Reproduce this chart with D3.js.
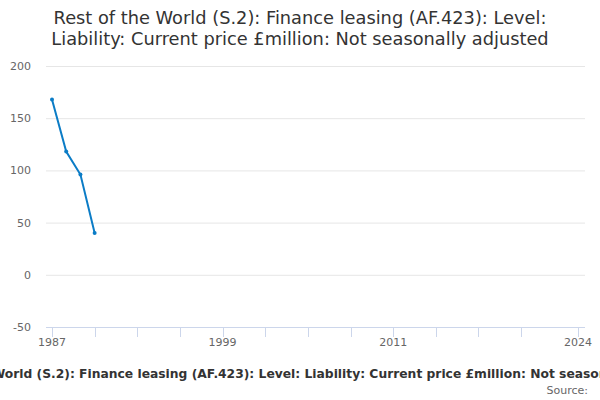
<!DOCTYPE html>
<html>
<head>
<meta charset="utf-8">
<script src="https://cdn.jsdelivr.net/npm/d3@7"></script>
<style>
  body { margin: 0; background: #fff; }
  text { font-family: "DejaVu Sans", sans-serif; }
</style>
</head>
<body>
<div id="chart"></div>
<script>
// data
const years = [1987, 1988, 1989, 1990];
const values = [168, 118, 96, 40];
const yTicks = [-50, 0, 50, 100, 150, 200];
const xTickYears = [1987, 1990, 1993, 1996, 1999, 2002, 2005, 2008, 2011, 2014, 2017, 2020, 2024];
const xLabelYears = [1987, 1999, 2011, 2024];
const titleLines = [
  "Rest of the World (S.2): Finance leasing (AF.423): Level:",
  "Liability: Current price £million: Not seasonally adjusted",
];
const footerText = "Rest of the World (S.2): Finance leasing (AF.423): Level: Liability: Current price £million: Not seasonally adjusted";

const width = 600, height = 400;
const margin = { top: 66, right: 22, bottom: 73, left: 52 };

const svg = d3.select("#chart").append("svg")
  .attr("width", width)
  .attr("height", height);

const x = d3.scaleLinear().domain([1987, 2024]).range([margin.left, width - margin.right]);
const y = d3.scaleLinear().domain([-50, 200]).range([height - margin.bottom, margin.top]);

// title
svg.append("text")
  .attr("x", 300)
  .attr("y", 24)
  .attr("text-anchor", "middle")
  .attr("font-size", 17.8)
  .attr("fill", "#333")
  .selectAll("tspan")
  .data(titleLines)
  .join("tspan")
  .attr("x", 300)
  .attr("dy", (d, i) => i === 0 ? 0 : 21)
  .text(d => d);

// gridlines
svg.append("g")
  .selectAll("line")
  .data(yTicks.filter(d => d !== -50))
  .join("line")
  .attr("x1", 46)
  .attr("x2", 585)
  .attr("y1", d => y(d) + 0.5)
  .attr("y2", d => y(d) + 0.5)
  .attr("stroke", "#e6e6e6");

// y labels
svg.append("g")
  .selectAll("text")
  .data(yTicks)
  .join("text")
  .attr("x", 31)
  .attr("y", d => y(d) + 4)
  .attr("text-anchor", "end")
  .attr("font-size", 11)
  .attr("fill", "#666")
  .text(d => d);

// x axis
const xAxis = svg.append("g");
xAxis.append("line")
  .attr("x1", 46)
  .attr("x2", 585)
  .attr("y1", y(-50) + 0.5)
  .attr("y2", y(-50) + 0.5)
  .attr("stroke", "#ccd6eb");
xAxis.selectAll("line.tick")
  .data(xTickYears)
  .join("line")
  .attr("class", "tick")
  .attr("x1", d => Math.round(x(d)) + 0.5)
  .attr("x2", d => Math.round(x(d)) + 0.5)
  .attr("y1", y(-50))
  .attr("y2", y(-50) + 10)
  .attr("stroke", "#ccd6eb");
xAxis.selectAll("text")
  .data(xLabelYears)
  .join("text")
  .attr("x", d => x(d))
  .attr("y", y(-50) + 19)
  .attr("text-anchor", "middle")
  .attr("font-size", 11)
  .attr("fill", "#666")
  .text(d => d);

// line
const pts = years.map((yr, i) => [yr, values[i]]);
svg.append("path")
  .datum(pts)
  .attr("fill", "none")
  .attr("stroke", "#0b7cc6")
  .attr("stroke-width", 2)
  .attr("d", d3.line().x(d => x(d[0])).y(d => y(d[1])));
svg.append("g")
  .selectAll("circle")
  .data(pts)
  .join("circle")
  .attr("cx", d => x(d[0]))
  .attr("cy", d => y(d[1]))
  .attr("r", 2)
  .attr("fill", "#0b7cc6");

// footer (wider than the chart, cut at both edges as in the original)
svg.append("text")
  .attr("x", 304)
  .attr("y", 378)
  .attr("text-anchor", "middle")
  .attr("font-size", 12.3)
  .attr("font-weight", "bold")
  .attr("fill", "#333")
  .text(footerText);
svg.append("text")
  .attr("x", 588)
  .attr("y", 394)
  .attr("text-anchor", "end")
  .attr("font-size", 11)
  .attr("fill", "#666")
  .text("Source:");
</script>
</body>
</html>
